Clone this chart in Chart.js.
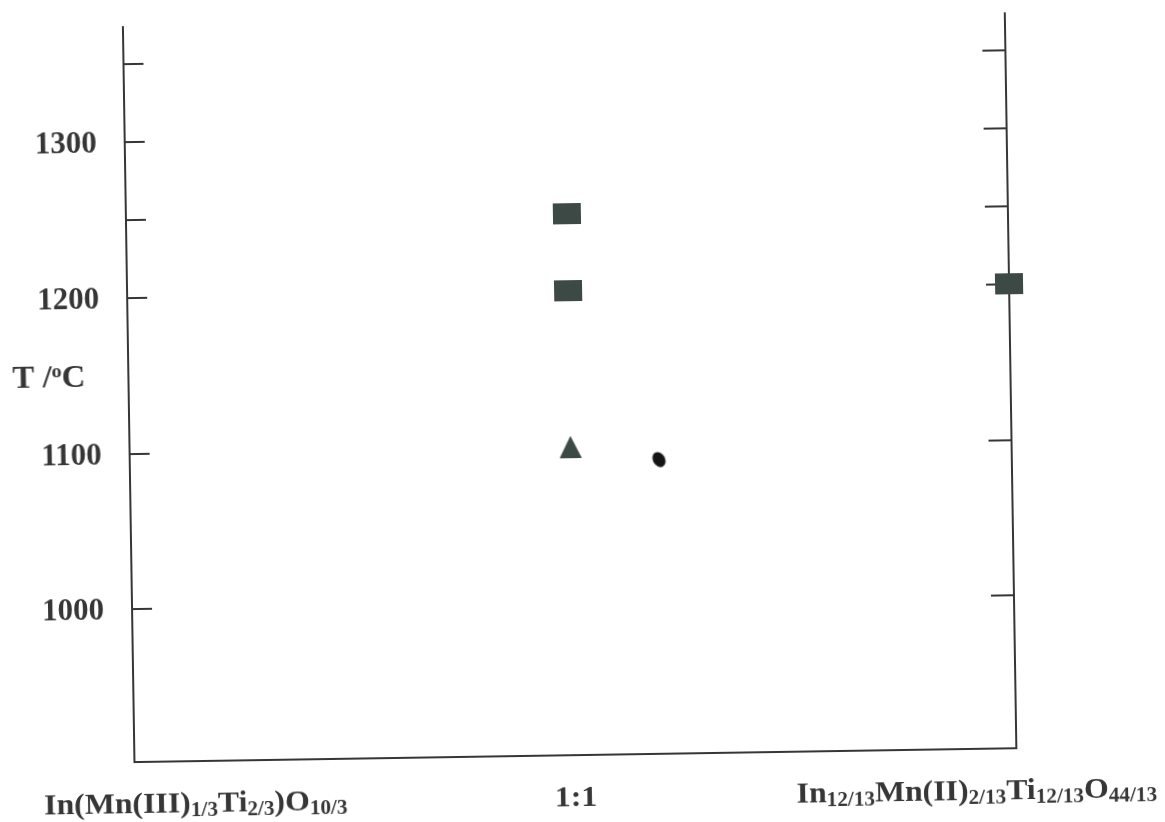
<!DOCTYPE html>
<html>
<head>
<meta charset="utf-8">
<script src="https://cdn.jsdelivr.net/npm/chart.js@4.4.1/dist/chart.umd.min.js"></script>
<style>
  html, body { margin: 0; padding: 0; background: #ffffff; }
  #wrap { width: 1165px; height: 822px; overflow: hidden; background: #ffffff; }
  #phase { display: block; transform: rotate(-0.9deg); transform-origin: 582.5px 411px; }
</style>
</head>
<body>
<div id="wrap"><canvas id="phase" width="1165" height="822"></canvas></div>
<script>
// Composition axis: 0 = In(Mn(III)1/3Ti2/3)O10/3, 0.5 = 1:1 mixture, 1 = In12/13Mn(II)2/13Ti12/13O44/13
const compositionPositions = [0, 0.5, 1];
const compositionLabels = [
  [{ t: 'In(Mn(III)' }, { t: '1/3', sub: true }, { t: 'Ti' }, { t: '2/3', sub: true }, { t: ')O' }, { t: '10/3', sub: true }],
  [{ t: '1:1' }],
  [{ t: 'In' }, { t: '12/13', sub: true }, { t: 'Mn(II)' }, { t: '2/13', sub: true }, { t: 'Ti' }, { t: '12/13', sub: true }, { t: 'O' }, { t: '44/13', sub: true }]
];

// Temperatures (°C) of the observed phases
const squareX = [0.5, 0.5, 1];
const squareT = [1250, 1200, 1200];
const triangleX = [0.5];
const triangleT = [1100];
const spotX = [0.6];
const spotT = [1091];

// Temperature axis
const tempMin = 902;
const tempMax = 1374;
const tempLabelValues = [1000, 1100, 1200, 1300];
const tempMarkValues = [1000, 1100, 1200, 1250, 1300, 1350];

const INK = '#363636';
const MARK = '#3d4945';
const SERIF = '"Liberation Serif", "Times New Roman", serif';
const TEXT_STRETCH = 1.06;

function markerCanvas(w, h, draw) {
  const c = document.createElement('canvas');
  c.width = w; c.height = h;
  draw(c.getContext('2d'), w, h);
  return c;
}
const squareMarker = markerCanvas(28, 21, (g, w, h) => { g.fillStyle = MARK; g.fillRect(0, 0, w, h); });
const triangleMarker = markerCanvas(22, 22, (g, w, h) => {
  g.fillStyle = MARK; g.beginPath(); g.moveTo(w / 2, 0); g.lineTo(w, h); g.lineTo(0, h); g.closePath(); g.fill();
});
const spotMarker = markerCanvas(16, 18, (g, w, h) => {
  g.fillStyle = '#141414'; g.beginPath();
  g.ellipse(w / 2, h / 2, 6, 8, -0.5, 0, Math.PI * 2); g.fill();
});

function toPoints(xs, ys) { return xs.map((x, i) => ({ x: x, y: ys[i] })); }

// Draws a run of text pieces (some as subscripts or superscripts), slightly widened
function drawRich(ctx, pieces, x, baseline, align, size, smallSize, subDrop, supRise) {
  const fontMain = 'bold ' + size + 'px ' + SERIF;
  const fontSmall = 'bold ' + smallSize + 'px ' + SERIF;
  let total = 0;
  const widths = pieces.map(p => {
    ctx.font = (p.sub || p.sup) ? fontSmall : fontMain;
    const w = ctx.measureText(p.t).width * TEXT_STRETCH; total += w; return w;
  });
  let cx = align === 'left' ? x : align === 'right' ? x - total : x - total / 2;
  ctx.textAlign = 'left';
  ctx.textBaseline = 'alphabetic';
  pieces.forEach((p, i) => {
    ctx.font = (p.sub || p.sup) ? fontSmall : fontMain;
    const dy = p.sub ? subDrop : p.sup ? -supRise : 0;
    ctx.save();
    ctx.translate(cx, baseline + dy);
    ctx.scale(TEXT_STRETCH, 1);
    ctx.fillText(p.t, 0, 0);
    ctx.restore();
    cx += widths[i];
  });
}

const labelLayout = [
  { align: 'left', dx: -91 },
  { align: 'center', dx: 0 },
  { align: 'right', dx: 140 }
];

const decorations = {
  id: 'decorations',
  beforeDatasetsDraw(chart) {
    const ctx = chart.ctx;
    const y = chart.scales.y;
    const area = chart.chartArea;
    ctx.save();
    ctx.strokeStyle = INK;
    ctx.lineWidth = 2;
    tempMarkValues.forEach(v => {
      const py = Math.round(y.getPixelForValue(v));
      ctx.beginPath(); ctx.moveTo(area.left, py); ctx.lineTo(area.left + 20, py); ctx.stroke();
      ctx.beginPath(); ctx.moveTo(area.right, py); ctx.lineTo(area.right - 23, py); ctx.stroke();
    });
    ctx.restore();
  },
  afterDraw(chart) {
    const ctx = chart.ctx;
    const x = chart.scales.x;
    const y = chart.scales.y;
    ctx.save();
    ctx.fillStyle = INK;
    compositionLabels.forEach((pieces, i) => {
      const px = x.getPixelForValue(compositionPositions[i]) + labelLayout[i].dx;
      drawRich(ctx, pieces, px, chart.chartArea.bottom + 51, labelLayout[i].align, 30, 20, 4, 0);
    });
    // Axis title: T /°C
    const ty = y.getPixelForValue(1150) + 10;
    drawRich(ctx, [{ t: 'T /' }, { t: 'o', sup: true }, { t: 'C' }], 13, ty, 'left', 31, 19, 0, 10);
    ctx.restore();
  }
};

function noPadding(s) { s.paddingTop = 0; s.paddingBottom = 0; s.paddingLeft = 0; s.paddingRight = 0; }

new Chart(document.getElementById('phase'), {
  type: 'scatter',
  data: {
    datasets: [
      { label: 'square', data: toPoints(squareX, squareT), pointStyle: squareMarker, clip: false },
      { label: 'triangle', data: toPoints(triangleX, triangleT), pointStyle: triangleMarker, clip: false },
      { label: 'spot', data: toPoints(spotX, spotT), pointStyle: spotMarker, clip: false }
    ]
  },
  options: {
    responsive: false,
    animation: false,
    events: [],
    layout: { padding: { top: 20, left: 0, right: 0, bottom: 0 } },
    plugins: { legend: { display: false }, tooltip: { enabled: false } },
    scales: {
      x: {
        type: 'linear', min: 0, max: 1,
        ticks: { display: false },
        grid: { display: false, drawTicks: false },
        border: { display: true, color: INK, width: 2 },
        afterFit(s) { s.height = 67; noPadding(s); }
      },
      y: {
        type: 'linear', position: 'left', min: tempMin, max: tempMax,
        afterBuildTicks(s) { s.ticks = tempLabelValues.map(v => ({ value: v })); },
        ticks: {
          padding: 28, labelOffset: 2, color: INK,
          font: { family: SERIF, size: 31, weight: 'bold' },
          callback: v => String(v)
        },
        grid: { display: false, drawTicks: false },
        border: { display: true, color: INK, width: 2 },
        afterFit(s) { s.width = 129; noPadding(s); }
      },
      y2: {
        type: 'linear', position: 'right', min: tempMin, max: tempMax,
        ticks: { display: false },
        grid: { display: false, drawTicks: false },
        border: { display: true, color: INK, width: 2 },
        afterFit(s) { s.width = 154; noPadding(s); }
      }
    }
  },
  plugins: [decorations]
});
</script>
</body>
</html>
